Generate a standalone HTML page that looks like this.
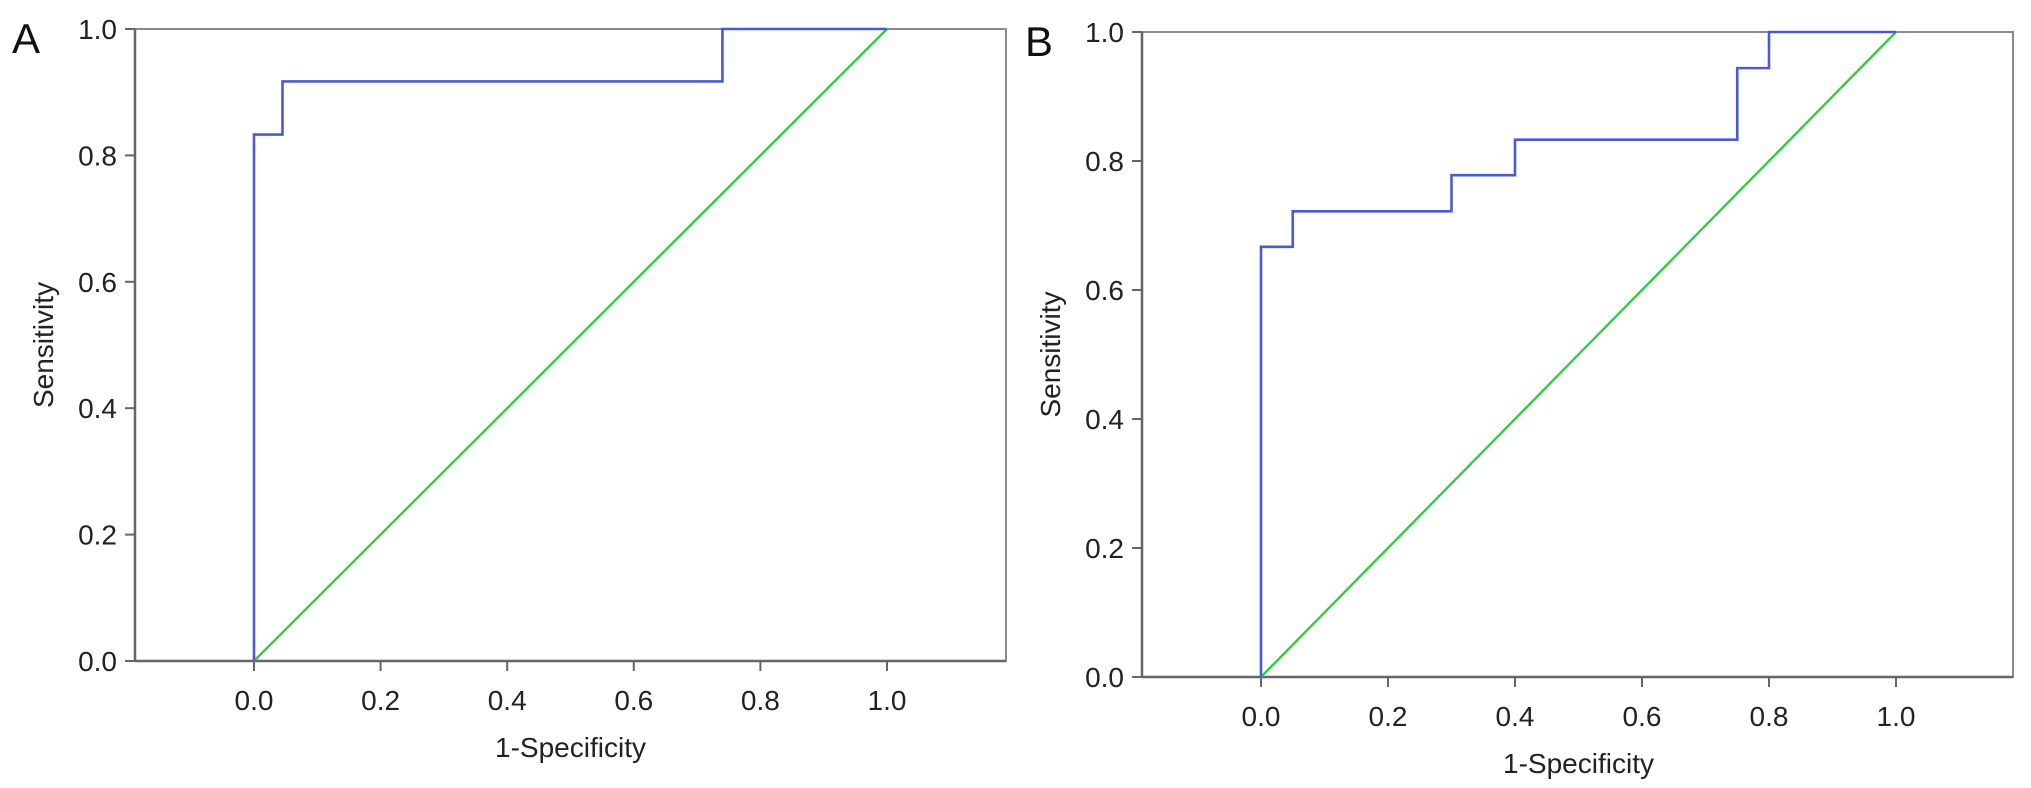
<!DOCTYPE html>
<html><head><meta charset="utf-8"><style>
html,body{margin:0;padding:0;background:#fff;}
svg{display:block;font-family:"Liberation Sans",Arial,sans-serif;}
</style></head><body>
<svg id="chart" width="2031" height="788" viewBox="0 0 2031 788"></svg>
<script>
const xTicks = [0.0, 0.2, 0.4, 0.6, 0.8, 1.0];
const yTicks = [0.0, 0.2, 0.4, 0.6, 0.8, 1.0];
const rocA_fpr = [0, 0, 0.045, 0.045, 0.74, 0.74, 1];
const rocA_tpr = [0, 0.833, 0.833, 0.917, 0.917, 1, 1];
const rocB_fpr = [0, 0, 0.05, 0.05, 0.3, 0.3, 0.4, 0.4, 0.75, 0.75, 0.8, 0.8, 1];
const rocB_tpr = [0, 0.667, 0.667, 0.722, 0.722, 0.778, 0.778, 0.833, 0.833, 0.944, 0.944, 1, 1];
const refX = [0, 1];
const refY = [0, 1];

const NS = "http://www.w3.org/2000/svg";
const svg = document.getElementById("chart");
function mk(tag, attrs, parent){const e=document.createElementNS(NS,tag);for(const k in attrs)e.setAttribute(k,attrs[k]);(parent||svg).appendChild(e);return e;}

function panel(id, letter, box, fpr, tpr){
  const g = mk("g",{});
  
  
  const sx = v => box.x0 + v*(box.x1-box.x0);
  const sy = v => box.y0 - v*(box.y0-box.top);
  const fr = mk("rect",{x:box.left,y:box.top,width:box.right-box.left,height:box.y0-box.top,fill:"none",stroke:"#8a8a8a","stroke-width":2},g);
  
  
  const ya = mk("line",{x1:box.left,y1:box.top,x2:box.left,y2:box.y0,stroke:"#666","stroke-width":2.5},g);
  
  
  const xa = mk("line",{x1:box.left,y1:box.y0,x2:box.right,y2:box.y0,stroke:"#666","stroke-width":2.5},g);
  
  
  yTicks.forEach(v=>{
    const y=sy(v);
    const t=mk("line",{x1:box.left-10,y1:y,x2:box.left,y2:y,stroke:"#666","stroke-width":2},g);
    
    
    const l=mk("text",{x:box.left-18,y:y+10,"text-anchor":"end","font-size":28,fill:"#222"},g);
    l.textContent=v.toFixed(1);
    
    
  });
  xTicks.forEach(v=>{
    const x=sx(v);
    const t=mk("line",{x1:x,y1:box.y0,x2:x,y2:box.y0+10,stroke:"#666","stroke-width":2},g);
    
    
    const l=mk("text",{x:x,y:box.y0+49,"text-anchor":"middle","font-size":28,fill:"#222"},g);
    l.textContent=v.toFixed(1);
    
    
  });
  const xt=mk("text",{x:(box.x0+box.x1)/2,y:box.y0+96,"text-anchor":"middle","font-size":28,fill:"#222"},g);
  xt.textContent="1-Specificity";
  
  
  const cy=(box.top+box.y0)/2;
  const tx=box.left-82;
  const yt=mk("text",{x:tx,y:cy,"text-anchor":"middle","font-size":28,fill:"#222",transform:`rotate(-90 ${tx} ${cy})`},g);
  yt.textContent="Sensitivity";
  
  
  const pl=mk("text",{x:box.letterX,y:box.top+24,"font-size":42,fill:"#111"},g);
  pl.textContent=letter;
  
  
  const ref=mk("polyline",{points:refX.map((v,i)=>sx(v)+","+sy(refY[i])).join(" "),fill:"none",stroke:"#33cc44","stroke-width":2.4},g);
  
  
  const roc=mk("polyline",{points:fpr.map((v,i)=>sx(v)+","+sy(tpr[i])).join(" "),fill:"none",stroke:"#4a5ccc","stroke-width":2.6},g);
  
  
}
panel("a","A",{left:135,right:1006,top:29,y0:661,x0:254,x1:887,letterX:12},rocA_fpr,rocA_tpr);
panel("b","B",{left:1142,right:2013,top:32,y0:677,x0:1261,x1:1896,letterX:1025},rocB_fpr,rocB_tpr);
</script>
</body></html>
